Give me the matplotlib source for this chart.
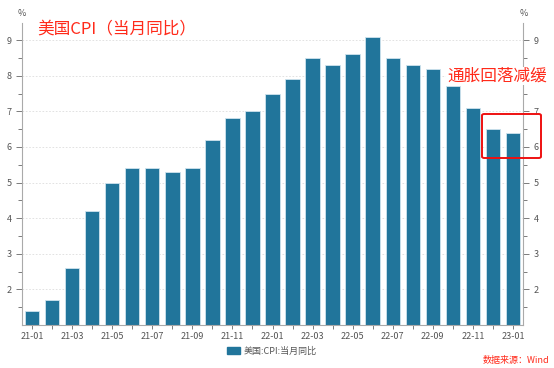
import matplotlib
matplotlib.use("Agg")
import matplotlib.pyplot as plt
from matplotlib.patches import FancyBboxPatch, Patch
import numpy as np

plt.rcParams['font.family'] = ['Noto Sans CJK SC', 'DejaVu Sans']

months = ["21-01","21-02","21-03","21-04","21-05","21-06","21-07","21-08","21-09","21-10","21-11","21-12",
          "22-01","22-02","22-03","22-04","22-05","22-06","22-07","22-08","22-09","22-10","22-11","22-12","23-01"]
cpi = [1.4, 1.7, 2.6, 4.2, 5.0, 5.4, 5.4, 5.3, 5.4, 6.2, 6.8, 7.0,
       7.5, 7.9, 8.5, 8.3, 8.6, 9.1, 8.5, 8.3, 8.2, 7.7, 7.1, 6.5, 6.4]
yticks = [2, 3, 4, 5, 6, 7, 8, 9]
series_name = "美国:CPI:当月同比"
title = "美国CPI（当月同比）"
note = "通胀回落减缓"
source = "数据来源：Wind"

bar_color = "#21759b"
grey = "#666666"

fig = plt.figure(figsize=(5.54, 3.68), dpi=100)
ax = fig.add_axes([22/554, 1-325/368, (523-22)/554, (325-23)/368])
x = np.arange(len(months))
ax.bar(x, cpi, width=0.72, color=bar_color, edgecolor="#cfe3ee", linewidth=0.6, zorder=2)
ax.set_xlim(-0.5, len(months)-0.5)
ax.set_ylim(1.0, 9.48)

ax.set_yticks(yticks)
ax.set_yticks(np.arange(1.5, 9.5, 0.5), minor=True)
ax.grid(axis='y', which='major', linestyle=(0, (2, 2)), color="#dddddd", linewidth=0.6, zorder=0)
ax.tick_params(axis='y', which='both', labelsize=6.5, colors=grey, length=3, width=0.6, labelcolor="#555555")
ax.tick_params(axis='y', which='both', left=True, right=True, labelleft=True, labelright=True)
ax.tick_params(axis='y', which='major', length=4)
ax.set_xticks(x)
ax.set_xticklabels([m if i % 2 == 0 else "" for i, m in enumerate(months)])
ax.tick_params(axis='x', labelsize=6.5, colors=grey, length=3, width=0.6, labelcolor="#555555", pad=2)

# the right-hand "8" is covered by the annotation in the reference
for v, tk in zip(yticks, ax.yaxis.get_major_ticks()):
    if v == 8:
        tk.label2.set_visible(False)

ax.spines["top"].set_visible(False)
for s in ["left", "right", "bottom"]:
    ax.spines[s].set_color("#aaaaaa")
    ax.spines[s].set_linewidth(0.8)

fig.text(22/554, 1-14/368, "%", fontsize=6.5, color="#555555", ha='center', va='center')
fig.text(524/554, 1-14/368, "%", fontsize=6.5, color="#555555", ha='center', va='center')

fig.text(37/554, 1-30/368, title, fontsize=12, color="#ff2a1a", ha='left', va='center')
fig.text(447/554, 1-76/368, note, fontsize=12, color="#ff2a1a", ha='left', va='center',
         bbox=dict(facecolor='white', edgecolor='none', pad=0.5))
rect = FancyBboxPatch((482/554, 1-158/368), (541-482)/554, (158-114)/368, transform=fig.transFigure,
                      boxstyle="round,pad=0,rounding_size=0.004",
                      fill=False, edgecolor="#ee1111", linewidth=1.4)
fig.patches.append(rect)

leg = fig.legend(handles=[Patch(facecolor=bar_color, edgecolor=bar_color, label=series_name)],
                 loc='center', bbox_to_anchor=(272/554, 1-351/368), frameon=False,
                 fontsize=6.5, handlelength=1.4, handleheight=0.9, handletextpad=0.4)
for t in leg.get_texts():
    t.set_color("#555555")

fig.text(549/554, 1-361/368, source, fontsize=6.5, color="#ff2a1a", ha='right', va='center')

fig.savefig("out.png", dpi=100)
